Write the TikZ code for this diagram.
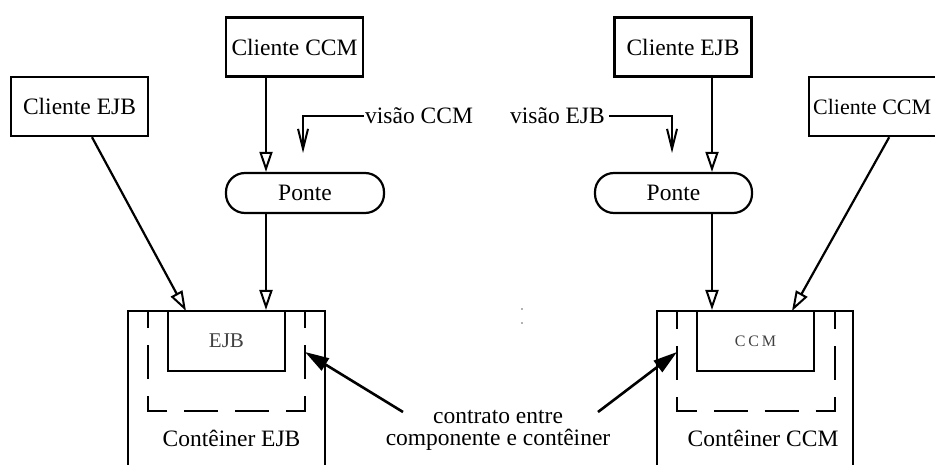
\documentclass[tikz,border=0pt]{standalone}
\usepackage{fontspec}
\setmainfont{Liberation Serif}
\usetikzlibrary{arrows.meta}
\begin{document}
\begin{tikzpicture}[x=1pt,y=-1pt,
  lbl/.style={font=\fontsize{23.5}{22}\selectfont},
  client/.style={draw,line width=2.4pt,minimum width=137pt,minimum height=59pt,inner sep=0pt,lbl},
  bridge/.style={draw,line width=2.2pt,rounded corners=19pt,minimum height=40pt,inner sep=0pt,lbl},
  inner/.style={draw,line width=2pt,inner sep=0pt,minimum width=117pt,minimum height=60pt,text=black!75},
  conn/.style={line width=2.2pt,-{Triangle[open,length=20pt,width=13pt,line width=2pt]}},
  view/.style={line width=2pt,-{Straight Barb[length=20pt,width=10pt,line width=2pt]}},
  contract/.style={line width=2.6pt,-{Triangle[length=24pt,width=14pt]}},
  wall/.style={line width=2.3pt},
  seal/.style={line width=2.3pt,dash pattern=on 34pt off 17pt,dash phase=42.5pt}
]
\useasboundingbox (0,0) rectangle (935,465);
\clip (0,0) rectangle (935,465);

% ---------- left: EJB container with CCM bridge ----------
\node[client] (ccmA) at (294.5,47) {Cliente CCM};
\node[client] (ejbA) at (79.5,106.5) {Cliente EJB};
\node[bridge,minimum width=158pt] (ponA) at (305,193) {Ponte};
\node[lbl,anchor=west,inner sep=1pt] (vA) at (364,116) {visão CCM};
\coordinate (vtipA) at (303,153);

\draw[wall] (128,480) |- (325,311) -- (325,480);
\node[inner,font=\fontsize{21}{24}\selectfont] (ejbIn) at (226.5,341) {EJB};
\draw[seal] (226.5,411) -| (148,311);
\draw[seal] (226.5,411) -| (305,311);
\node[lbl] (contA) at (231.5,438) {Contêiner EJB};

\coordinate (xA) at (266,0);
\coordinate (hitA) at (186,311);
\draw[conn] (ccmA.south -| xA) -- (ponA.north -| xA);
\draw[conn] (ponA.south -| xA) -- (ejbIn.north -| xA);
\draw[conn] ([xshift=12.5pt]ejbA.south) -- (hitA);
\draw[view] (vA.west) -| (vtipA);

% ---------- right: CCM container with EJB bridge ----------
\node[client] (ejbB) at (683,47) {Cliente EJB};
% the box runs on past the right edge; its label stays inside
\node[draw,line width=2.4pt,anchor=west,minimum width=150pt,minimum height=59pt,inner sep=0pt] (ccmB) at (808,106.5) {};
\node[anchor=west,inner sep=0pt,font=\fontsize{22}{22}\selectfont] (ccmBt) at (813,106.5) {Cliente CCM};
\node[bridge,minimum width=157pt] (ponB) at (673.5,193) {Ponte};
\node[lbl,anchor=east,inner sep=1pt] (vB) at (606,116) {visão EJB};
\coordinate (vtipB) at (672,153);

\draw[wall] (657,480) |- (853,311) -- (853,480);
\node[inner,font=\fontsize{16}{20}\selectfont\addfontfeatures{LetterSpace=18}] (ccmIn) at (755.5,341) {CCM};
\draw[seal] (756,411) -| (677,311);
\draw[seal] (756,411) -| (835,311);
\node[lbl] (contB) at (763,438) {Contêiner CCM};

\coordinate (xB) at (712,0);
\coordinate (hitB) at (792,311);
\draw[conn] (ejbB.south -| xB) -- (ponB.north -| xB);
\draw[conn] (ponB.south -| xB) -- (ccmIn.north -| xB);
\draw[conn] ([xshift=5pt]ccmB.south) -- (hitB);
\draw[view] ([xshift=3pt]vB.east) -| (vtipB);

% ---------- contract between component and container ----------
\node[lbl,align=center,inner sep=0pt] (ct) at (498,430) {contrato entre\\componente e contêiner};
\coordinate (cfromA) at (403,412);
\coordinate (ctipA) at (305,352);
\coordinate (cfromB) at (598,412);
\coordinate (ctipB) at (677,352);
\draw[contract] (cfromA) -- (ctipA);
\draw[contract] (cfromB) -- (ctipB);

% two faint specks in the middle
\fill[black!60] (522,309) circle (0.9pt);
\fill[black!60] (522,323) circle (0.9pt);
\end{tikzpicture}
\end{document}
